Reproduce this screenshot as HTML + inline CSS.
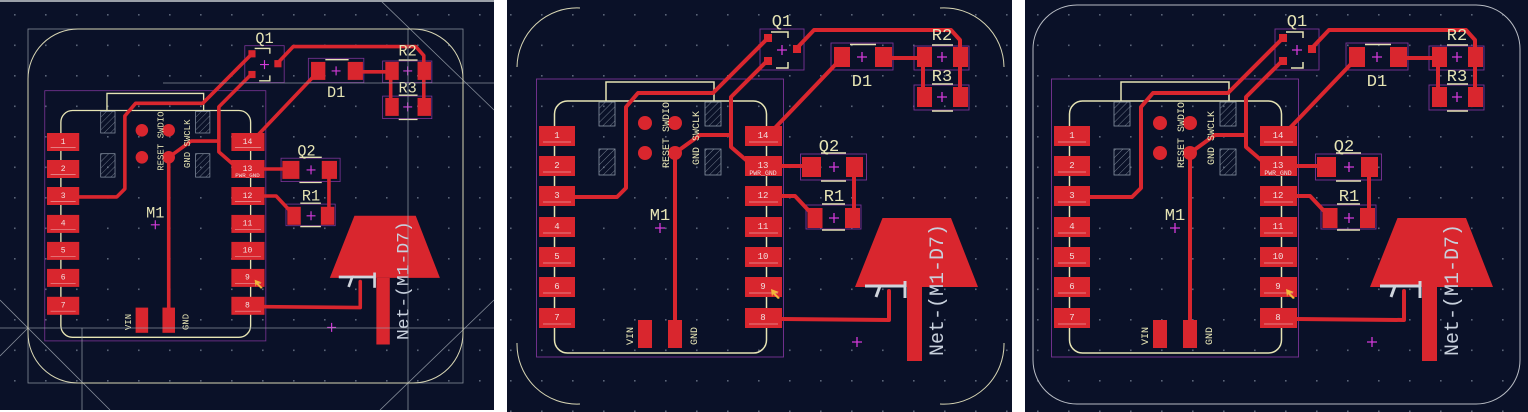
<!DOCTYPE html>
<html><head><meta charset="utf-8"><style>
html,body{margin:0;padding:0;background:#fff;width:1528px;height:412px;overflow:hidden}
svg{display:block}
</style></head><body>
<svg width="1528" height="412" viewBox="0 0 1528 412" xmlns="http://www.w3.org/2000/svg" font-family="'Liberation Mono','DejaVu Sans Mono',monospace">
<defs>
<pattern id="dots" x="0" y="0" width="31" height="30.5" patternUnits="userSpaceOnUse">
<rect x="14" y="14" width="1.6" height="1.6" fill="#5a6478"/>
</pattern>
<pattern id="hatch" width="5" height="5" patternUnits="userSpaceOnUse" patternTransform="rotate(45)">
<line x1="0" y1="0" x2="0" y2="5" stroke="#8a95a5" stroke-width="0.8"/>
</pattern>
<clipPath id="c1"><rect x="0" y="0" width="494" height="410"/></clipPath>
<clipPath id="c2"><rect x="507" y="0" width="505" height="412"/></clipPath>
<clipPath id="c3"><rect x="1025" y="0" width="503" height="412"/></clipPath>
<g id="pcb">
<!-- courtyard rects -->
<g fill="none" stroke="#7b3496" stroke-width="0.9">
<rect x="536.5" y="79" width="247" height="278"/>
<rect x="760" y="29" width="44" height="41"/>
<rect x="831" y="43" width="62" height="27"/>
<rect x="914" y="46" width="55" height="24"/>
<rect x="914" y="85" width="55" height="25"/>
<rect x="800.5" y="154" width="66" height="26"/>
<rect x="806" y="205" width="55" height="24"/>
</g>
<!-- silkscreen -->
<g fill="none" stroke="#e6e4b4" stroke-width="1.5">
<rect x="554.5" y="101" width="212" height="252" rx="13"/>
<polyline points="606,101 606,82 714,82 714,101"/>
<polyline points="771,32 788,32 788,38"/><polyline points="788,62 788,68 776,68"/>
<line x1="850" y1="44.5" x2="876" y2="44.5"/>
<line x1="932" y1="45" x2="953" y2="45"/><line x1="932" y1="84" x2="953" y2="84"/>
<line x1="932" y1="111" x2="953" y2="111"/>
<line x1="821" y1="153" x2="846" y2="153"/><line x1="821" y1="181" x2="846" y2="181"/>
<line x1="822" y1="204" x2="845" y2="204"/><line x1="822" y1="230" x2="845" y2="230"/>
</g>
<g fill="url(#hatch)" stroke="#8a95a5" stroke-width="0.8">
<rect x="599" y="102" width="16" height="24"/><rect x="705" y="102" width="16" height="24"/>
<rect x="599" y="149" width="16" height="26"/><rect x="705" y="149" width="16" height="26"/>
</g>
<!-- traces -->
<g fill="none" stroke="#d9262e" stroke-width="4" stroke-linejoin="round" stroke-linecap="round">
<polyline points="575,197 617,197 626,188 626,107 638,93 713,93 768,38"/>
<polyline points="767,61 731,97 731,147 746,160"/>
<polyline points="731,135 700,135 675,153 675,320"/>
<polyline points="796,49 814,30 951,30 960,40 960,97"/>
<polyline points="892,58 917,58"/>
<polyline points="923,57 923,97"/>
<polyline points="836,64 772,131"/>
<polyline points="782,166 807,166"/>
<polyline points="854,170 854,220"/>
<polyline points="782,196 795,196 810,212"/>
<polyline points="782,319 889,320 889,291"/>
</g>
<!-- antenna -->
<polygon points="882.5,218 951,218 978,287 855,287" fill="#d9262e"/>
<rect x="907" y="287" width="15" height="74" fill="#d9262e"/>
<g fill="none" stroke="#cfd4dc" stroke-width="3"><polyline points="865,286 880,286 876,297"/><line x1="905" y1="281" x2="905" y2="298"/><line x1="880" y1="286" x2="905" y2="286"/></g>
<text transform="translate(943,356) rotate(-90)" font-size="20" fill="#c8d0dc">Net-(M1-D7)</text>
<!-- module pads -->
<g fill="#d9262e">
<rect x="539" y="126" width="36" height="20"/><rect x="539" y="156" width="36" height="20"/>
<rect x="539" y="186" width="36" height="20"/><rect x="539" y="217" width="36" height="20"/>
<rect x="539" y="247" width="36" height="20"/><rect x="539" y="277" width="36" height="20"/>
<rect x="539" y="308" width="36" height="20"/>
<rect x="745" y="126" width="37" height="20"/><rect x="745" y="156" width="37" height="20"/>
<rect x="745" y="186" width="37" height="20"/><rect x="745" y="217" width="37" height="20"/>
<rect x="745" y="247" width="37" height="20"/><rect x="745" y="277" width="37" height="20"/>
<rect x="745" y="308" width="37" height="20"/>
<rect x="638" y="320" width="14" height="28"/><rect x="668" y="320" width="14" height="28"/>
<circle cx="645" cy="123" r="7"/><circle cx="675" cy="123" r="7"/>
<circle cx="645" cy="153" r="7"/><circle cx="675" cy="153" r="7"/>
<rect x="764" y="34" width="8" height="8"/><rect x="764" y="57" width="8" height="8"/><rect x="793" y="45" width="8" height="8"/>
<rect x="834" y="47" width="16" height="20"/><rect x="875" y="47" width="17" height="20"/>
<rect x="917" y="47" width="15" height="20"/><rect x="953" y="47" width="15" height="20"/>
<rect x="917" y="87" width="15" height="20"/><rect x="953" y="87" width="15" height="20"/>
<rect x="802" y="157" width="19" height="20"/><rect x="846" y="157" width="17" height="20"/>
<rect x="807.5" y="208" width="15" height="20"/><rect x="845" y="208" width="15" height="20"/>
</g>
<g fill="#f2e0e0" font-size="9" text-anchor="middle">
<text x="557" y="138">1</text><text x="557" y="168">2</text><text x="557" y="198">3</text>
<text x="557" y="229">4</text><text x="557" y="259">5</text><text x="557" y="289">6</text><text x="557" y="320">7</text>
<text x="763" y="138">14</text><text x="763" y="168">13</text><text x="763" y="198">12</text>
<text x="763" y="229">11</text><text x="763" y="259">10</text><text x="763" y="289">9</text><text x="763" y="320">8</text>
</g>
<g fill="#f2e0e0" font-size="6.5" text-anchor="middle">
<text x="763" y="175">PWR_GND</text>
</g>
<g stroke="#f0b8b8" stroke-width="0.8" opacity="0.8">
<line x1="543" y1="142" x2="571" y2="142"/><line x1="543" y1="172" x2="571" y2="172"/><line x1="543" y1="202" x2="571" y2="202"/>
<line x1="543" y1="233" x2="571" y2="233"/><line x1="543" y1="263" x2="571" y2="263"/><line x1="543" y1="293" x2="571" y2="293"/><line x1="543" y1="324" x2="571" y2="324"/>
<line x1="749" y1="142" x2="778" y2="142"/><line x1="749" y1="202" x2="778" y2="202"/>
<line x1="749" y1="233" x2="778" y2="233"/><line x1="749" y1="263" x2="778" y2="263"/><line x1="749" y1="293" x2="778" y2="293"/><line x1="749" y1="324" x2="778" y2="324"/>
</g>
<g fill="#e6e4b4" font-size="10">
<text transform="translate(669,168) rotate(-90)">RESET SWDIO</text>
<text transform="translate(699,165) rotate(-90)">GND SWCLK</text>
<text transform="translate(633,345) rotate(-90)">VIN</text>
<text transform="translate(697,345) rotate(-90)">GND</text>
</g>
<g fill="#e6e4b4" font-size="17" text-anchor="middle">
<text x="782" y="26">Q1</text><text x="862" y="86">D1</text>
<text x="942" y="40">R2</text><text x="942" y="81">R3</text>
<text x="829" y="151">Q2</text><text x="834" y="201">R1</text>
<text x="660" y="220">M1</text>
</g>
<g stroke="#d23ad8" stroke-width="1.3">
<path d="M655 228h10M660 223v10"/><path d="M777 50h10M782 45v10"/>
<path d="M857 57h10M862 52v10"/><path d="M937 57h10M942 52v10"/><path d="M937 97h10M942 92v10"/>
<path d="M829 167h10M834 162v10"/><path d="M829 218h10M834 213v10"/><path d="M852 342h10M857 337v10"/>
</g>
<polygon points="771,289 779,292 775,293 780,298 778,299 773,294 772,297" fill="#f2b63a"/>
</g>
</defs>

<!-- Panel 1 -->
<rect x="0" y="0" width="494" height="410" fill="#0a1128"/>
<rect x="0" y="0" width="494" height="410" fill="url(#dots)"/>
<g clip-path="url(#c1)">
<use href="#pcb" transform="translate(-435.4,19.6) scale(0.895,0.9)"/>
<g fill="none" stroke="#9aa2ac" stroke-width="0.8" opacity="0.85">
<rect x="28" y="29" width="435" height="354"/>
<line x1="0" y1="328" x2="494" y2="328"/><line x1="163" y1="83" x2="494" y2="83"/>
<line x1="82" y1="328" x2="82" y2="410"/><line x1="408" y1="29" x2="408" y2="410"/>
<line x1="380" y1="0" x2="494" y2="110"/><line x1="494" y1="300" x2="380" y2="410"/>
<line x1="0" y1="300" x2="110" y2="410"/><line x1="28" y1="328" x2="0" y2="356"/>
</g>
<rect x="28" y="29" width="435" height="354" rx="50" fill="none" stroke="#d8d6b4" stroke-width="1"/>
</g>
<rect x="0" y="0" width="494" height="2" fill="#9aa0a8"/>

<!-- Panel 2 -->
<rect x="507" y="0" width="505" height="412" fill="#0a1128"/>
<rect x="507" y="0" width="505" height="412" fill="url(#dots)"/>
<g clip-path="url(#c2)">
<use href="#pcb"/>
<g fill="none" stroke="#d8d6b4" stroke-width="1">
<path d="M517 67 A60 60 0 0 1 580 8"/><path d="M940 8 A60 60 0 0 1 1004 67"/>
<path d="M517 343 A60 60 0 0 0 580 404"/><path d="M940 404 A60 60 0 0 0 1004 343"/>
</g>
</g>

<!-- Panel 3 -->
<rect x="1025" y="0" width="503" height="412" fill="#0a1128"/>
<rect x="1025" y="0" width="503" height="412" fill="url(#dots)"/>
<g clip-path="url(#c3)">
<use href="#pcb" transform="translate(515,0)"/>
<rect x="1033" y="5" width="487" height="399" rx="44" fill="none" stroke="#b8bcc4" stroke-width="1"/>
</g>
</svg>
</body></html>
